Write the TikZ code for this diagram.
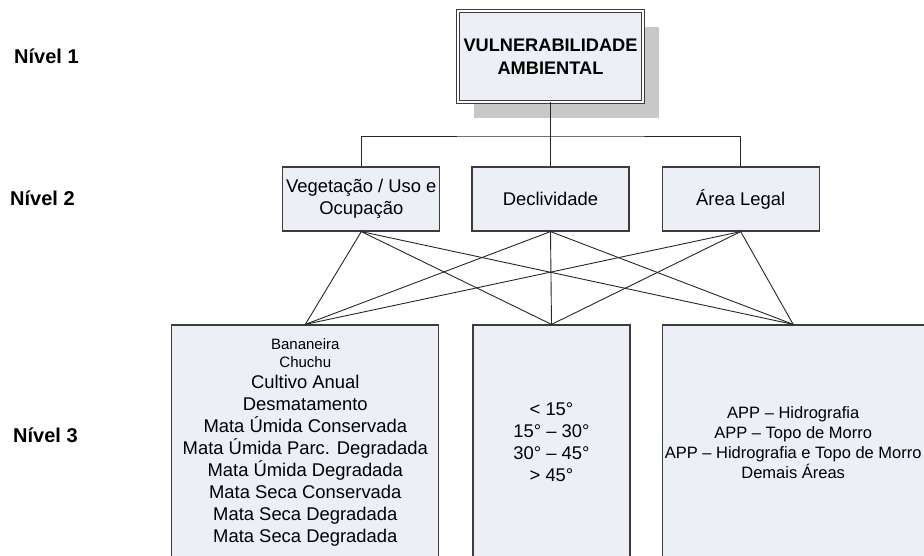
\documentclass[tikz,border=0pt]{standalone}
\usepackage{fontspec}
\setmainfont{Liberation Sans}
\usepackage{tikz}
\usetikzlibrary{positioning,shadows}

\definecolor{boxfill}{HTML}{ECEFF5}
\definecolor{boxline}{HTML}{3C3C3C}
\definecolor{shadowgray}{HTML}{C8C8C8}
\newcommand{\pq}[1]{{\fontsize{15}{18}\selectfont #1}}

\begin{document}
\begin{tikzpicture}[
  x=1pt, y=-1pt,
  node distance=31pt,
  font=\fontsize{18.4}{22}\selectfont,
  box/.style={rectangle, draw=boxline, fill=boxfill, line width=1.2pt, inner sep=0pt, align=center},
  topbox/.style={box, line width=0.9pt, double=white, double distance=2.2pt, minimum width=185pt, minimum height=91pt,
    drop shadow={shadow xshift=16pt, shadow yshift=-16pt, fill=shadowgray, opacity=1}},
  lvltwo/.style={box, minimum width=157pt, minimum height=64pt},
  lvlthree/.style={box, minimum height=235pt},
  nivel/.style={anchor=west, inner sep=0pt, font=\fontsize{20}{24}\selectfont\bfseries},
  link/.style={draw=black!85, line width=0.9pt}
]
\clip (0,0) rectangle (924,556);

% Levels
\node[nivel] (n1) at (14,56) {Nível 1};
\node[nivel] (n2) at (10,198) {Nível 2};
\node[nivel] (n3) at (13,435) {Nível 3};

% Level 1
\node[topbox, font=\fontsize{18.2}{23}\selectfont\bfseries] (vuln) at (550.5,56.5) {VULNERABILIDADE\\AMBIENTAL};

% Level 2
\node[lvltwo] (decl) at (550.5,199) {Declividade};
\node[lvltwo, left=of decl] (veg) {Vegetação / Uso e\\Ocupação};
\node[lvltwo, right=32pt of decl] (area) {Área Legal};

% Level 3
\node[lvlthree, minimum width=157pt] (faixas) at (551.5,442.5) {< 15°\\15° – 30°\\30° – 45°\\> 45°};
\node[lvlthree, minimum width=267pt, left=33pt of faixas] (classes)
  {\pq{Bananeira}\\[-4pt]\pq{Chuchu}\\[-1pt]Cultivo Anual\\Desmatamento\\Mata Úmida Conservada\\Mata Úmida Parc. Degradada\\Mata Úmida Degradada\\Mata Seca Conservada\\Mata Seca Degradada\\Mata Seca Degradada};
\node[lvlthree, minimum width=262pt, right=of faixas, font=\fontsize{16.5}{20}\selectfont] (app)
  {APP – Hidrografia\\APP – Topo de Morro\\APP – Hidrografia e Topo de Morro\\Demais Áreas};

% Tree
\coordinate (bus) at (550.5,136);
\draw[link] (vuln.south) -- (decl.north);
\draw[link] (veg.north) |- (bus) -| (area.north);

% Crossed links
\foreach \a in {veg,decl,area}
  \foreach \b in {classes,faixas,app}
    \draw[link] (\a.south) -- (\b.north);

\end{tikzpicture}
\end{document}
